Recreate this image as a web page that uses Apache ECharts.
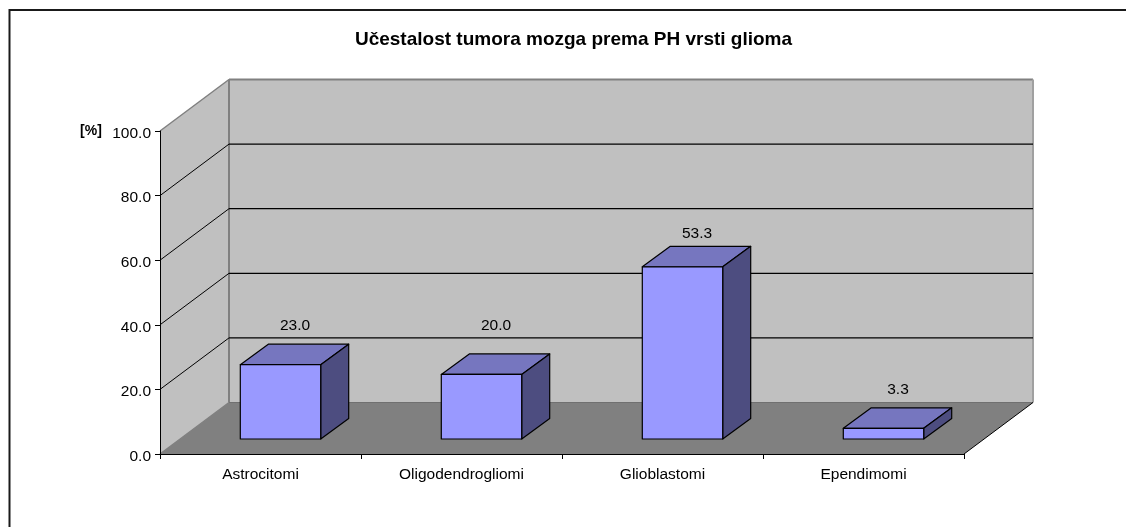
<!DOCTYPE html>
<html>
<head>
<meta charset="utf-8">
<title>Učestalost tumora mozga prema PH vrsti glioma</title>
<script src="https://cdn.jsdelivr.net/npm/echarts@6/dist/echarts.min.js"></script>
<style>
  html, body { margin: 0; padding: 0; background: #fff; }
  #chart { width: 1126px; height: 527px; }
</style>
</head>
<body>
<div id="chart"></div>
<script>
const chartTitle = 'Učestalost tumora mozga prema PH vrsti glioma'
const unitLabel = '[%]'
const categories = ['Astrocitomi', 'Oligodendrogliomi', 'Glioblastomi', 'Ependimomi']
const values = [23.0, 20.0, 53.3, 3.3]
const yTicks = [0, 20, 40, 60, 80, 100]

const fontFamily = '"Liberation Sans", Arial, sans-serif'
// fake 3D depth, in pixels
const WALL_DX = 69
const WALL_DY = -51.5
const BAR_INSET_DX = 20
const BAR_INSET_DY = -15
const BAR_DX = 28
const BAR_DY = -20.5
// value labels sit at uneven heights above the bars in the original
const LABEL_GAP = [18, 28, 13, 18]

const chart = echarts.init(document.getElementById('chart'))

const poly = (points, fill, stroke, lineWidth) => ({
  type: 'polygon',
  shape: { points },
  style: { fill, stroke: stroke || 'none', lineWidth: lineWidth || 0 }
})

const seg = (p1, p2, stroke, lineWidth) => ({
  type: 'line',
  shape: { x1: p1[0], y1: p1[1], x2: p2[0], y2: p2[1] },
  style: { stroke, lineWidth }
})

const back = (p) => [p[0] + WALL_DX, p[1] + WALL_DY]

// outer ends of the category band, a category axis clamps coord() to the data range
const plotEnds = (api, v) => {
  const half = api.size([1, 0])[0] / 2
  const p = api.coord([0, v])
  const q = api.coord([categories.length - 1, v])
  return [[p[0] - half, p[1]], [q[0] + half, q[1]]]
}

const renderWalls = (params, api) => {
  const [a, b] = plotEnds(api, 0)
  const [c, d] = plotEnds(api, 100)
  return {
    type: 'group',
    children: [
      poly([a, back(a), back(c), c], '#c0c0c0'),
      poly([back(a), back(b), back(d), back(c)], '#c0c0c0'),
      poly([a, b, back(b), back(a)], '#808080'),
      seg(back(a), back(c), '#808080', 2),
      seg(back(c), back(d), '#808080', 2),
      seg(back(d), back(b), '#a0a0a0', 2),
      seg(back(a), back(b), '#707070', 1),
      seg(a, back(a), '#808080', 1.5),
      seg(c, back(c), '#808080', 1.5),
      seg(b, back(b), '#000', 1)
    ]
  }
}

const renderGridLine = (params, api) => {
  const [p, q] = plotEnds(api, api.value(0))
  return {
    type: 'group',
    children: [seg(p, back(p), '#000', 1), seg(back(p), back(q), '#000', 1.2)]
  }
}

const renderBar = (params, api) => {
  const idx = api.value(0)
  const value = api.value(1)
  const width = api.size([1, 0])[0] * 0.4
  const base = api.coord([idx, 0])
  const head = api.coord([idx, value])
  const left = base[0] - width / 2 + BAR_INSET_DX
  const right = left + width
  const bottom = base[1] + BAR_INSET_DY
  const top = head[1] + BAR_INSET_DY
  const line = { stroke: '#000', lineWidth: 1.2, lineJoin: 'round' }
  const shift = (x, y) => [x + BAR_DX, y + BAR_DY]
  return {
    type: 'group',
    children: [
      { ...poly([[left, top], [right, top], shift(right, top), shift(left, top)]), style: { fill: '#7676bf', ...line } },
      { ...poly([[right, top], [right, bottom], shift(right, bottom), shift(right, top)]), style: { fill: '#4d4d80', ...line } },
      { ...poly([[left, top], [right, top], [right, bottom], [left, bottom]]), style: { fill: '#9999ff', ...line } },
      {
        type: 'text',
        style: {
          text: value.toFixed(1),
          x: (left + right) / 2 + 14.5,
          y: top + BAR_DY - LABEL_GAP[idx],
          align: 'center',
          verticalAlign: 'middle',
          fill: '#000',
          font: '15.5px ' + fontFamily
        }
      }
    ]
  }
}

const option = {
  backgroundColor: '#fff',
  animation: false,
  title: {
    text: chartTitle,
    left: 568.5,
    top: 25,
    textAlign: 'center',
    textStyle: { fontFamily, fontSize: 19, fontWeight: 'bold', color: '#000' }
  },
  graphic: [
    { type: 'polyline', z: 0, shape: { points: [[9.5, 527], [9.5, 10], [1126, 10]] }, style: { fill: 'none', stroke: '#1a1a1a', lineWidth: 2 } },
    { type: 'text', x: 91, y: 131, style: { text: unitLabel, align: 'center', verticalAlign: 'middle', fill: '#000', font: 'bold 14px ' + fontFamily } }
  ],
  grid: { left: 160, top: 131, width: 804, height: 323 },
  xAxis: {
    type: 'category',
    data: categories,
    z: 5,
    axisLine: { lineStyle: { color: '#000', width: 1 } },
    axisTick: { show: true, length: 5, alignWithLabel: false, lineStyle: { color: '#000' } },
    axisLabel: { margin: 13, color: '#000', fontFamily, fontSize: 15.5 },
    splitLine: { show: false }
  },
  yAxis: {
    type: 'value',
    min: 0,
    max: 100,
    interval: 20,
    z: 5,
    axisLine: { show: true, lineStyle: { color: '#000', width: 1 } },
    axisTick: { show: true, length: 5, lineStyle: { color: '#000' } },
    axisLabel: {
      margin: 9,
      formatter: (v) => '{v|' + v.toFixed(1) + '}',
      rich: { v: { color: '#000', fontFamily, fontSize: 15.5, padding: [5, 0, 0, 0] } }
    },
    splitLine: { show: false }
  },
  series: [
    { type: 'custom', name: 'walls', z: 1, silent: true, coordinateSystem: 'cartesian2d', clip: false, data: [[0, 0]], renderItem: renderWalls },
    { type: 'custom', name: 'grid', z: 2, silent: true, coordinateSystem: 'cartesian2d', clip: false, encode: { y: 0 }, data: yTicks.slice(1, -1).map((v) => [v]), renderItem: renderGridLine },
    { type: 'custom', name: 'Učestalost', z: 3, coordinateSystem: 'cartesian2d', clip: false, encode: { x: 0, y: 1 }, data: values.map((v, i) => [i, v]), renderItem: renderBar }
  ]
}

chart.setOption(option)
window.addEventListener('resize', () => chart.resize())
</script>
</body>
</html>
